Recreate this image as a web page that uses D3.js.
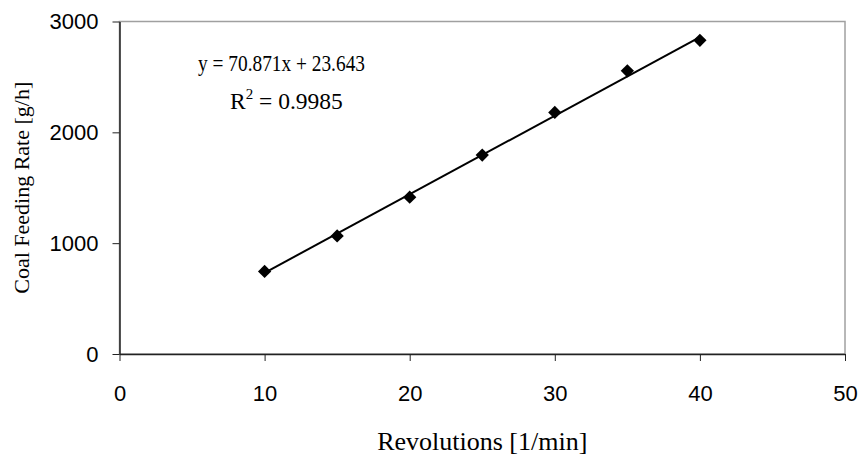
<!DOCTYPE html>
<html>
<head>
<meta charset="utf-8">
<script src="https://cdn.jsdelivr.net/npm/d3@7"></script>
<style>
  body { margin: 0; background: #fff; }
  svg { display: block; }
</style>
</head>
<body>
<div class="chart-container"></div>
<script>
const revolutions = [10, 15, 20, 25, 30, 35, 40];
const feedRate = [745, 1065, 1415, 1795, 2180, 2555, 2830];

const xTicks = [0, 10, 20, 30, 40, 50];
const yTicks = [0, 1000, 2000, 3000];

// linear trendline from the chart
const slope = 70.871;
const intercept = 23.643;
const rSquared = '0.9985';

const outerWidth = 861;
const outerHeight = 455;
const margin = {top: 21.5, right: 16, bottom: 101, left: 119.5};
const width = outerWidth - margin.left - margin.right;
const height = outerHeight - margin.top - margin.bottom;

const sansFont = '"Liberation Sans", Arial, sans-serif';
const serifFont = '"Liberation Serif", "Times New Roman", serif';

const svg = d3.select('.chart-container').append('svg')
    .attr('width', outerWidth)
    .attr('height', outerHeight);

const g = svg.append('g')
    .attr('transform', `translate(${margin.left}, ${margin.top})`);

// Scales
const x = d3.scaleLinear().domain([0, 50]).range([0, width]);
const y = d3.scaleLinear().domain([0, 3000]).range([height, 0]);

// Plot area border (grey top / right)
g.append('rect')
    .attr('width', width)
    .attr('height', height)
    .attr('fill', 'none')
    .attr('stroke', '#a0a0a0')
    .attr('stroke-width', 1.5);

// Axes
const xAxis = d3.axisBottom(x).tickValues(xTicks).tickFormat(d3.format('d'))
    .tickSize(7).tickPadding(24).tickSizeOuter(0);
const yAxis = d3.axisLeft(y).tickValues(yTicks).tickFormat(d3.format('d'))
    .tickSize(7).tickPadding(14).tickSizeOuter(0);

const gx = g.append('g')
    .attr('transform', `translate(0, ${height})`)
    .call(xAxis);
const gy = g.append('g').call(yAxis);

[gx, gy].forEach(ax => {
    ax.select('.domain').attr('stroke', '#222').attr('stroke-width', 1.5);
    ax.selectAll('.tick line').attr('stroke', '#222').attr('stroke-width', 1);
    ax.selectAll('.tick text')
        .attr('fill', '#000')
        .style('font-family', sansFont)
        .style('font-size', '22px');
});

// Trendline
const trendData = [d3.min(revolutions), d3.max(revolutions)];
g.append('line')
    .attr('x1', x(trendData[0]))
    .attr('y1', y(slope * trendData[0] + intercept))
    .attr('x2', x(trendData[1]))
    .attr('y2', y(slope * trendData[1] + intercept))
    .attr('stroke', '#000')
    .attr('stroke-width', 2);

// Diamond markers
const diamond = d3.symbol(d3.symbolSquare, 88);
g.selectAll('.marker')
    .data(revolutions)
    .join('path')
    .attr('class', 'marker')
    .attr('d', diamond)
    .attr('transform', (d, i) => `translate(${x(d)}, ${y(feedRate[i])}) rotate(45)`)
    .attr('fill', '#000');

// Equation
svg.append('text')
    .attr('x', 198)
    .attr('y', 71)
    .attr('textLength', 167)
    .attr('lengthAdjust', 'spacingAndGlyphs')
    .style('font-family', serifFont)
    .style('font-size', '23.5px')
    .text(`y = ${slope}x + ${intercept}`);

const r2 = svg.append('text')
    .attr('x', 230)
    .attr('y', 109)
    .style('font-family', serifFont)
    .style('font-size', '23.5px');
r2.append('tspan').text('R');
r2.append('tspan').attr('dy', -10).style('font-size', '15px').text('2');
r2.append('tspan').attr('dy', 10).text(` = ${rSquared}`);

// Axis titles
svg.append('text')
    .attr('x', margin.left + width / 2)
    .attr('y', 450)
    .attr('text-anchor', 'middle')
    .style('font-family', serifFont)
    .style('font-size', '26px')
    .text('Revolutions [1/min]');

svg.append('text')
    .attr('transform', `translate(29, ${margin.top + height / 2}) rotate(-90)`)
    .attr('text-anchor', 'middle')
    .style('font-family', serifFont)
    .style('font-size', '22px')
    .text('Coal Feeding Rate [g/h]');
</script>
</body>
</html>
